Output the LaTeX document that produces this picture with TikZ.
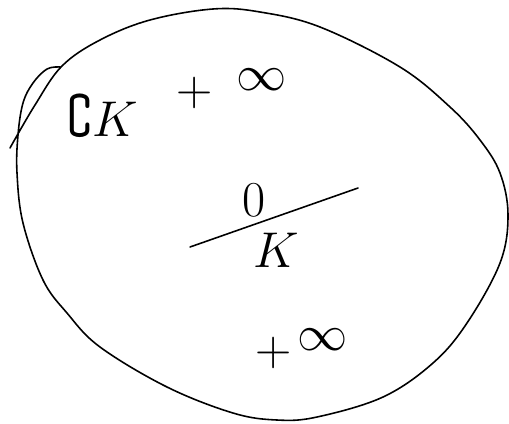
\documentclass[tikz,border=0pt]{standalone}
\usepackage{amsmath, amssymb}
\usetikzlibrary{positioning}

\begin{document}
\begin{tikzpicture}[x=0.02cm, y=-0.02cm,
  sketch/.style={line width=0.9pt, line join=round, line cap=round},
  hand/.style={inner sep=0pt, font=\Huge, scale=1.15, transform shape}
]
  \useasboundingbox (0,0) rectangle (509,423);

  % the big blob
  \draw[sketch] plot[smooth, tension=0.6] coordinates {
    (10,148) (35,105) (62,66) (100,40) (150,20) (213,9) (260,12) (320,27)
    (400,67) (450,107) (480,140) (500,173) (508,215) (500,263) (467,323)
    (433,363) (383,397) (317,417) (277,420) (233,413) (167,387) (100,347)
    (67,313) (43,280) (23,223) (17,173) (18,135) (23,103) (33,83) (47,69) (60,67)};

  \node[hand] (compK) at (103,116) {$\complement K$};
  \node[hand] (plusTop) at (195,93) {$+$};
  \node[hand] (inftyTop) at (262,80) {$\infty$};

  \node[hand] (zero) at (254,200) {$0$};
  \coordinate (barL) at (190,247);
  \coordinate (barR) at (358,188);
  \draw[sketch] (barL) -- (barR);
  \node[hand] (kay) at (276,250) {$K$};

  \node[hand] (plusBot) at (274,353) {$+$};
  \node[hand] (inftyBot) at (323,340) {$\infty$};
\end{tikzpicture}
\end{document}
